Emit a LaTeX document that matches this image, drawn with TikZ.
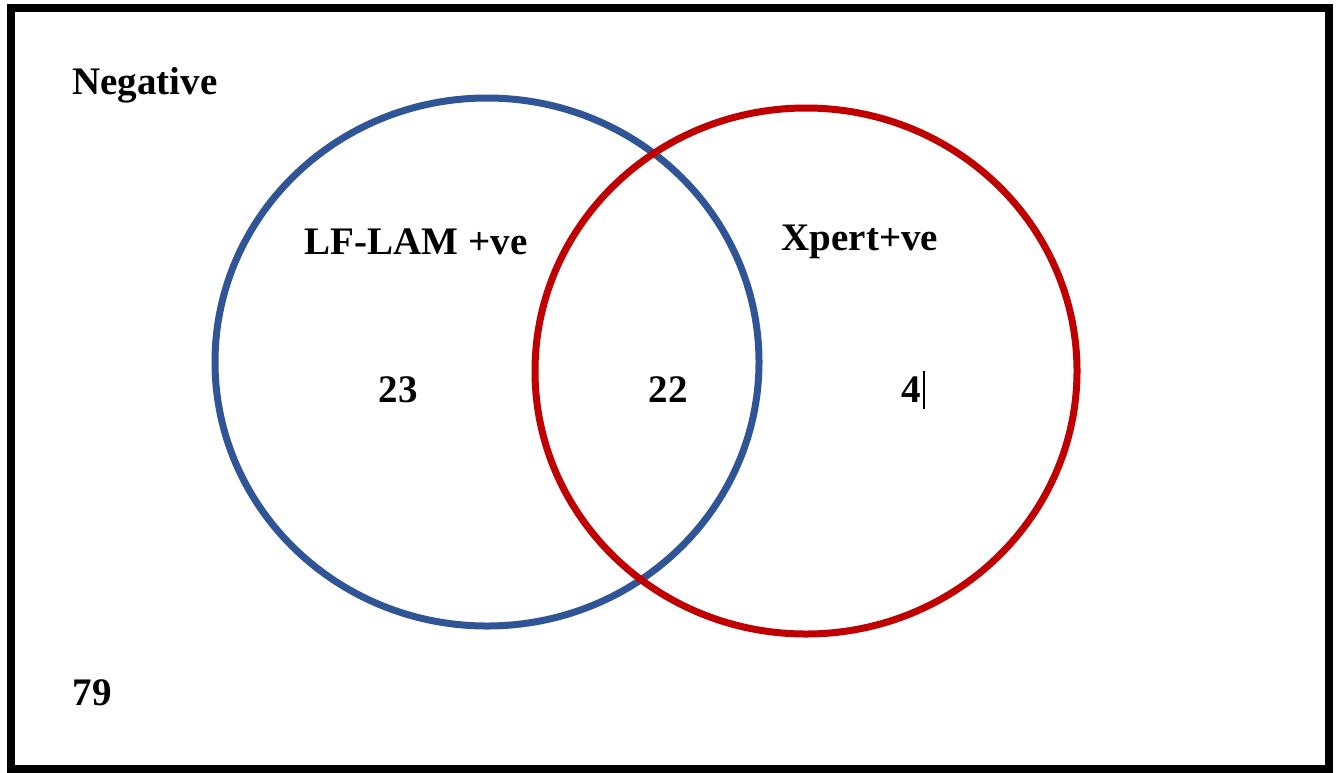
\documentclass[tikz,border=0pt]{standalone}
\usepackage{fontspec}
\setmainfont{Liberation Serif}
\usetikzlibrary{positioning}
\definecolor{lamblue}{HTML}{2F5597}
\definecolor{xpred}{HTML}{C00000}
\tikzset{lbl/.style={font=\fontsize{39}{46}\selectfont\bfseries,inner sep=0pt}, ring/.style={line width=7pt}}
\begin{document}
\begin{tikzpicture}[x=1pt,y=-1pt]
\useasboundingbox (0,0) rectangle (1337,772);
\draw[line width=8pt] (11,8) rectangle (1329,769);
\draw[ring,draw=lamblue] (487,362) ellipse [x radius=272pt,y radius=264pt];
\draw[ring,draw=xpred] (806,371) ellipse [x radius=271pt,y radius=263pt];
\node[lbl](neg) at (145,85){Negative};
\node[lbl](lam) at (416,242){LF-LAM +ve};
\node[lbl](xpert) at (860,242){Xpert+ve};
\node[lbl](onlylam) at (398,390){23};
\node[lbl](both) at (668,390){22};
\node[lbl](onlyx) at (911,390){4};
\node[lbl](none) at (92,693){79};
\draw[line width=1.5pt] ([xshift=3pt,yshift=6pt]onlyx.north east) -- ([xshift=3pt,yshift=-6pt]onlyx.south east);
\end{tikzpicture}
\end{document}
